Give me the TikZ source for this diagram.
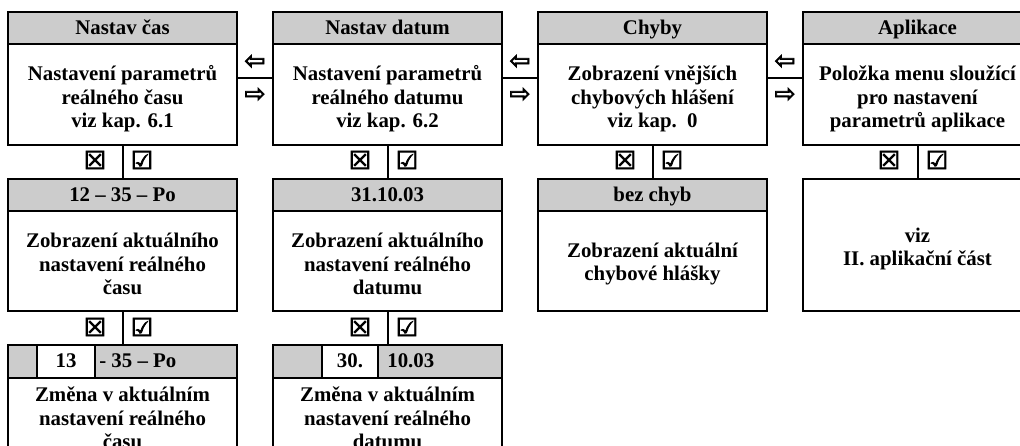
\documentclass[tikz,border=0pt]{standalone}
\usepackage{fontspec}
\setmainfont{Liberation Serif}
\newfontfamily\symfont[FakeBold=3]{DejaVu Sans}
\definecolor{hdrgray}{RGB}{204,204,204}

\begin{document}
\begin{tikzpicture}[x=0.6pt,y=-0.6pt,
  box/.style={draw=black,line width=1.2pt},
  hdr/.style={draw=black,line width=1.2pt,fill=hdrgray},
  lbl/.style={font=\fontsize{12.5}{14}\selectfont\bfseries,align=center,inner sep=0pt},
  sym/.style={font=\symfont\fontsize{15}{15}\selectfont,inner sep=0pt},
  arr/.style={font=\symfont\fontsize{15}{15}\selectfont,inner sep=0pt}]
\clip (0,0) rectangle (1020,446);

\draw[hdr] (8,12) rectangle (237,44);
\draw[box] (8,44) rectangle (237,145);
\node[lbl,anchor=base] (hcas) at (122.5,34.5) {Nastav čas};
\node[lbl] (tcas) at (122.5,99) {Nastavení parametrů\\reálného času\\viz kap. 6.1};

\draw[hdr] (273,12) rectangle (502,44);
\draw[box] (273,44) rectangle (502,145);
\node[lbl,anchor=base] (hdat) at (387.5,34.5) {Nastav datum};
\node[lbl] (tdat) at (387.5,99) {Nastavení parametrů\\reálného datumu\\viz kap. 6.2};

\draw[hdr] (538,12) rectangle (767,44);
\draw[box] (538,44) rectangle (767,145);
\node[lbl,anchor=base] (hchy) at (652.5,34.5) {Chyby};
\node[lbl] (tchy) at (652.5,99) {Zobrazení vnějších\\chybových hlášení\\viz kap.~~0};

\draw[hdr] (803,12) rectangle (1032,44);
\draw[box] (803,44) rectangle (1032,145);
\node[lbl,anchor=base] (hapl) at (917.5,34.5) {Aplikace};
\node[lbl] (tapl) at (917.5,99) {Položka menu sloužící\\pro nastavení\\parametrů aplikace};

\draw[box] (237,78) -- (273,78);
\node[arr] (l1) at (255,62) {⇦};
\node[arr] (r1) at (255,95) {⇨};
\draw[box] (502,78) -- (538,78);
\node[arr] (l2) at (520,62) {⇦};
\node[arr] (r2) at (520,95) {⇨};
\draw[box] (767,78) -- (803,78);
\node[arr] (l3) at (785,62) {⇦};
\node[arr] (r3) at (785,95) {⇨};

\draw[box] (122.5,145) -- (122.5,179);
\node[sym] (no1) at (95,160) {☒};
\node[sym] (ok1) at (142,160) {☑};
\draw[box] (387.5,145) -- (387.5,179);
\node[sym] (no2) at (360,160) {☒};
\node[sym] (ok2) at (407,160) {☑};
\draw[box] (652.5,145) -- (652.5,179);
\node[sym] (no3) at (625,160) {☒};
\node[sym] (ok3) at (672,160) {☑};
\draw[box] (917.5,145) -- (917.5,179);
\node[sym] (no4) at (889,160) {☒};
\node[sym] (ok4) at (937,160) {☑};

\draw[hdr] (8,179) rectangle (237,211);
\draw[box] (8,211) rectangle (237,311);
\node[lbl,anchor=base] (hakt) at (122.5,201.5) {12 – 35 – Po};
\node[lbl] (takt) at (122.5,264) {Zobrazení aktuálního\\nastavení reálného\\času};

\draw[hdr] (273,179) rectangle (502,211);
\draw[box] (273,211) rectangle (502,311);
\node[lbl,anchor=base] (hakd) at (387.5,201.5) {31.10.03};
\node[lbl] (takd) at (387.5,264) {Zobrazení aktuálního\\nastavení reálného\\datumu};

\draw[hdr] (538,179) rectangle (767,211);
\draw[box] (538,211) rectangle (767,311);
\node[lbl,anchor=base] (hbez) at (652.5,201.5) {bez chyb};
\node[lbl] (tbez) at (652.5,264) {Zobrazení aktuální\\chybové hlášky};

\draw[box] (803,179) rectangle (1032,311);
\node[lbl] (tviz) at (917.5,249) {viz\\II. aplikační část};

\draw[box] (122.5,311) -- (122.5,345);
\node[sym] (no5) at (95,327) {☒};
\node[sym] (ok5) at (142,327) {☑};
\draw[box] (387.5,311) -- (387.5,345);
\node[sym] (no6) at (360,327) {☒};
\node[sym] (ok6) at (407,327) {☑};

\draw[hdr] (8,345) rectangle (237,378);
\draw[box,fill=white] (37,345) rectangle (95,378);
\draw[box] (8,378) rectangle (237,470);
\node[lbl,anchor=base] (hod) at (66,368) {13};
\node[lbl,anchor=base west] (zbyt1) at (99,368) {- 35 – Po};
\node[lbl] (zcas) at (122.5,418) {Změna v aktuálním\\nastavení reálného\\času};

\draw[hdr] (273,345) rectangle (502,378);
\draw[box,fill=white] (322,345) rectangle (378,378);
\draw[box] (273,378) rectangle (502,470);
\node[lbl,anchor=base] (den) at (350,368) {30.};
\node[lbl,anchor=base west] (zbyt2) at (387,368) {10.03};
\node[lbl] (zdat) at (387.5,418) {Změna v aktuálním\\nastavení reálného\\datumu};

\end{tikzpicture}
\end{document}
